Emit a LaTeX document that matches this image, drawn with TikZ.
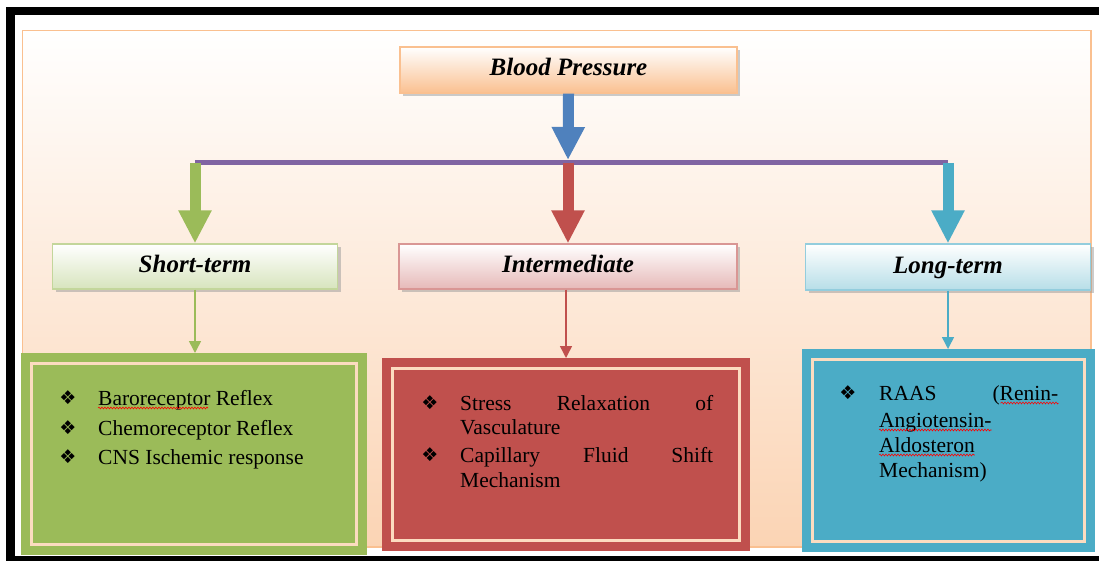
\documentclass[tikz,border=0pt]{standalone}
\usepackage{fontspec}
\setmainfont{Liberation Serif}
\newfontfamily\dingfont{DejaVu Sans}
\usetikzlibrary{positioning,calc,shadows,arrows.meta,decorations.pathmorphing}

\definecolor{bpBlue}{HTML}{4F81BD}
\definecolor{stGreen}{HTML}{9BBB59}
\definecolor{imRed}{HTML}{C0504D}
\definecolor{ltAqua}{HTML}{4BACC6}
\definecolor{hubPurple}{HTML}{8064A2}
\definecolor{bgPeach}{HTML}{FBD4B4}
\definecolor{bgBorder}{HTML}{FAC090}
\definecolor{bpLight}{HTML}{FAC090}
\definecolor{stLight}{HTML}{D7E4BD}
\definecolor{stBorder}{HTML}{C3D69B}
\definecolor{imLight}{HTML}{E6B9B8}
\definecolor{imBorder}{HTML}{D99694}
\definecolor{ltLight}{HTML}{B7DEE8}
\definecolor{ltBorder}{HTML}{93CDDD}
\definecolor{peachLine}{HTML}{FCDCC0}

\newcommand\boxtextfont{\fontsize{21.5}{25.5}\selectfont}

\tikzset{
  heading/.style 2 args={draw=#1, line width=1.2pt, top color=white, bottom color=#2,
    inner sep=0pt, minimum height=45pt, text height=17.5pt, text depth=5.5pt,
    font=\fontsize{25}{30}\selectfont\bfseries\itshape,
    drop shadow={shadow xshift=3pt, shadow yshift=-3pt, fill=black!40, opacity=.5}},
  detail/.style={draw=#1, fill=#1, line width=9pt, double=peachLine, double distance=3pt,
    inner sep=0pt, outer sep=10.5pt},
  bigarrow/.style={line width=11pt, -{Triangle[width=31pt,length=33pt]}},
  thinarrow/.style={line width=1.5pt, -{Triangle[width=12pt,length=12pt]}},
  item/.style={anchor=base west, inner sep=0pt, font=\boxtextfont},
  bullet/.style={inner sep=0pt, font=\dingfont\fontsize{19}{19}\selectfont},
  squiggle/.style={draw=red, line width=0.6pt, decorate,
    decoration={snake, amplitude=0.9pt, segment length=3pt}}
}

\begin{document}
\begin{tikzpicture}[x=1pt,y=-1pt]
    \clip (0,0) rectangle (1099,561);
    % Frame and background
    \draw[line width=8.5pt] (10.5,11) rectangle (1130,560);
    \draw[draw=bgBorder, line width=1.2pt, top color=white, bottom color=bgPeach] (22.5,30.5) rectangle (1091,547);

    % Headings
    \node[heading={bgBorder}{bpLight}, minimum width=337pt, minimum height=46pt] (bp) at (568.5,70) {Blood Pressure};
    \node[heading={stBorder}{stLight}, minimum width=285pt] (short) at (195,266.5) {Short-term};
    \node[heading={imBorder}{imLight}, minimum width=338pt] (inter) at (568,266.5) {Intermediate};
    \node[heading={ltBorder}{ltLight}, minimum width=285pt, minimum height=46pt] (long) at (948,267) {Long-term};

    % Splitter
    \coordinate (hubL) at (195,163);
    \coordinate (hubR) at (948,163);
    \coordinate (hubTip) at (568,160);
    \draw[hubPurple, line width=5pt] (hubL) -- (hubR);
    \draw[bigarrow, bpBlue] (bp.south) -- (hubTip);
    \draw[bigarrow, stGreen] (hubL) -- (short.north);
    \draw[bigarrow, imRed] (inter.north |- hubL) -- (inter.north);
    \draw[bigarrow, ltAqua] (hubR) -- (long.north);

    % Detail boxes
    \node[detail=stGreen, minimum width=325pt, minimum height=181pt] (shortbox) at (194,454) {};
    \node[detail=imRed, minimum width=347pt, minimum height=172pt] (interbox) at (566,454.5) {};
    \node[detail=ltAqua, minimum width=272pt, minimum height=182pt] (longbox) at (948.5,450.5) {};
    \draw[thinarrow, stGreen] (short.south) -- (short.south |- shortbox.north);
    \draw[thinarrow, imRed] (interbox.north |- inter.south) -- (interbox.north);
    \draw[thinarrow, ltAqua] (long.south) -- (long.south |- longbox.north);

    % Short-term list
    \foreach \y/\txt [count=\i] in {405/Baroreceptor Reflex, 435/Chemoreceptor Reflex, 464/CNS Ischemic response} {
        \node[bullet] (stb\i) at (68,\y-7) {❖};
        \node[item] (st\i) at (98,\y) {\txt};
    }
    \draw[squiggle] ([yshift=-3pt]st1.base west) -- ++(110,0);

    % Intermediate list
    \node[bullet] (imb1) at (430,403) {❖};
    \node[item] (im1) at (460,410) {\makebox[253pt][s]{Stress Relaxation of}};
    \node[item] (im2) at (460,434) {Vasculature};
    \node[bullet] (imb2) at (430,455) {❖};
    \node[item] (im3) at (460,462) {\makebox[253pt][s]{Capillary Fluid Shift}};
    \node[item] (im4) at (460,487) {Mechanism};

    % Long-term list
    \node[bullet] (ltb1) at (848,393) {❖};
    \node[item] (lt1) at (879,400) {\makebox[179pt][s]{RAAS (Renin-}};
    \node[item] (lt2) at (879,427) {Angiotensin-};
    \node[item] (lt3) at (879,452) {Aldosteron};
    \node[item] (lt4) at (879,477) {Mechanism)};
    \draw[squiggle] ([yshift=-3pt]lt1.base east) -- ++(-58,0);
    \draw[squiggle] ([yshift=-3pt]lt2.base west) -- ([yshift=-3pt]lt2.base east);
    \draw[squiggle] ([yshift=-3pt]lt3.base west) -- ([yshift=-3pt]lt3.base east);
\end{tikzpicture}
\end{document}
